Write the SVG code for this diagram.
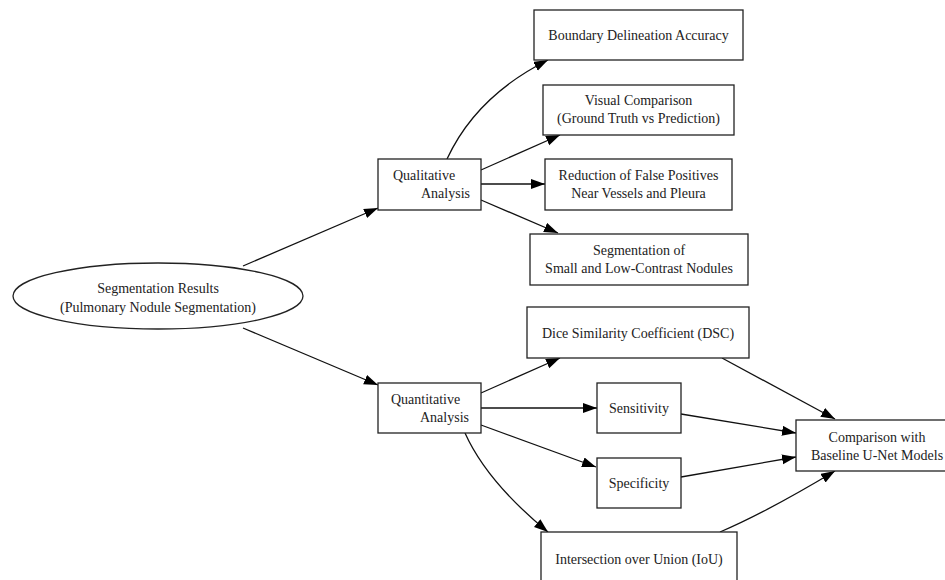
<svg xmlns="http://www.w3.org/2000/svg" width="945" height="580" viewBox="0 0 945 580">
<defs>
<marker id="ah" markerUnits="userSpaceOnUse" markerWidth="15" markerHeight="11" refX="14" refY="5" orient="auto">
<path d="M0,0 L14,5 L0,10 z" fill="#000"/>
</marker>
<style>
.n{fill:#fff;stroke:#222;stroke-width:1.3}
.t{font-family:"Liberation Serif","Times New Roman",serif;font-size:14px;fill:#222;text-anchor:middle}
.l{text-anchor:start}
.r{text-anchor:end}
.e{fill:none;stroke:#111;stroke-width:1.3;marker-end:url(#ah)}
</style>
</defs>
<rect width="945" height="580" fill="#fff"/>
<g id="edges">
<path class="e" d="M243,266 L378,208"/>
<path class="e" d="M243,328 L378,385"/>
<path class="e" d="M447,159 C466,118 500,84 548,60"/>
<path class="e" d="M481,170 L560,135"/>
<path class="e" d="M481,184 L545,184"/>
<path class="e" d="M481,200 L558,233"/>
<path class="e" d="M481,393 L560,358"/>
<path class="e" d="M481,408 L597,408"/>
<path class="e" d="M481,425 L596,467"/>
<path class="e" d="M465,433 C478,462 503,495 548,532"/>
<path class="e" d="M722,358 L835,419"/>
<path class="e" d="M681,414 L796,433"/>
<path class="e" d="M681,477 L796,457"/>
<path class="e" d="M720,532 C760,515 800,492 835,471"/>
</g>
<g id="root">
<ellipse class="n" cx="158" cy="296" rx="145" ry="33"/>
<text class="t" x="158" y="293">Segmentation Results</text>
<text class="t" x="158" y="312">(Pulmonary Nodule Segmentation)</text>
</g>
<g id="qual">
<rect class="n" x="378" y="159" width="103" height="51"/>
<text class="t l" x="393" y="180">Qualitative</text>
<text class="t r" x="470" y="198">Analysis</text>
</g>
<g id="quant">
<rect class="n" x="378" y="383" width="103" height="50"/>
<text class="t l" x="391" y="404">Quantitative</text>
<text class="t r" x="469" y="422">Analysis</text>
</g>
<g id="boundary">
<rect class="n" x="534" y="10" width="209" height="50"/>
<text class="t" x="638.5" y="40">Boundary Delineation Accuracy</text>
</g>
<g id="visual">
<rect class="n" x="543" y="85" width="191" height="50"/>
<text class="t" x="638.5" y="105">Visual Comparison</text>
<text class="t" x="638.5" y="123">(Ground Truth vs Prediction)</text>
</g>
<g id="reduction">
<rect class="n" x="545" y="159" width="187" height="51"/>
<text class="t" x="638.5" y="180">Reduction of False Positives</text>
<text class="t" x="638.5" y="198">Near Vessels and Pleura</text>
</g>
<g id="small">
<rect class="n" x="530" y="234" width="218" height="51"/>
<text class="t" x="639" y="255">Segmentation of</text>
<text class="t" x="639" y="273">Small and Low-Contrast Nodules</text>
</g>
<g id="dice">
<rect class="n" x="527" y="307" width="222" height="51"/>
<text class="t" x="638" y="338">Dice Similarity Coefficient (DSC)</text>
</g>
<g id="sens">
<rect class="n" x="597" y="383" width="84" height="50"/>
<text class="t" x="639" y="413">Sensitivity</text>
</g>
<g id="spec">
<rect class="n" x="597" y="458" width="84" height="50"/>
<text class="t" x="639" y="488">Specificity</text>
</g>
<g id="iou">
<rect class="n" x="541" y="532" width="196" height="50"/>
<text class="t" x="639" y="564">Intersection over Union (IoU)</text>
</g>
<g id="compare">
<rect class="n" x="796" y="420" width="160" height="51"/>
<text class="t" x="877" y="442">Comparison with</text>
<text class="t" x="877" y="460">Baseline U-Net Models</text>
</g>
</svg>
